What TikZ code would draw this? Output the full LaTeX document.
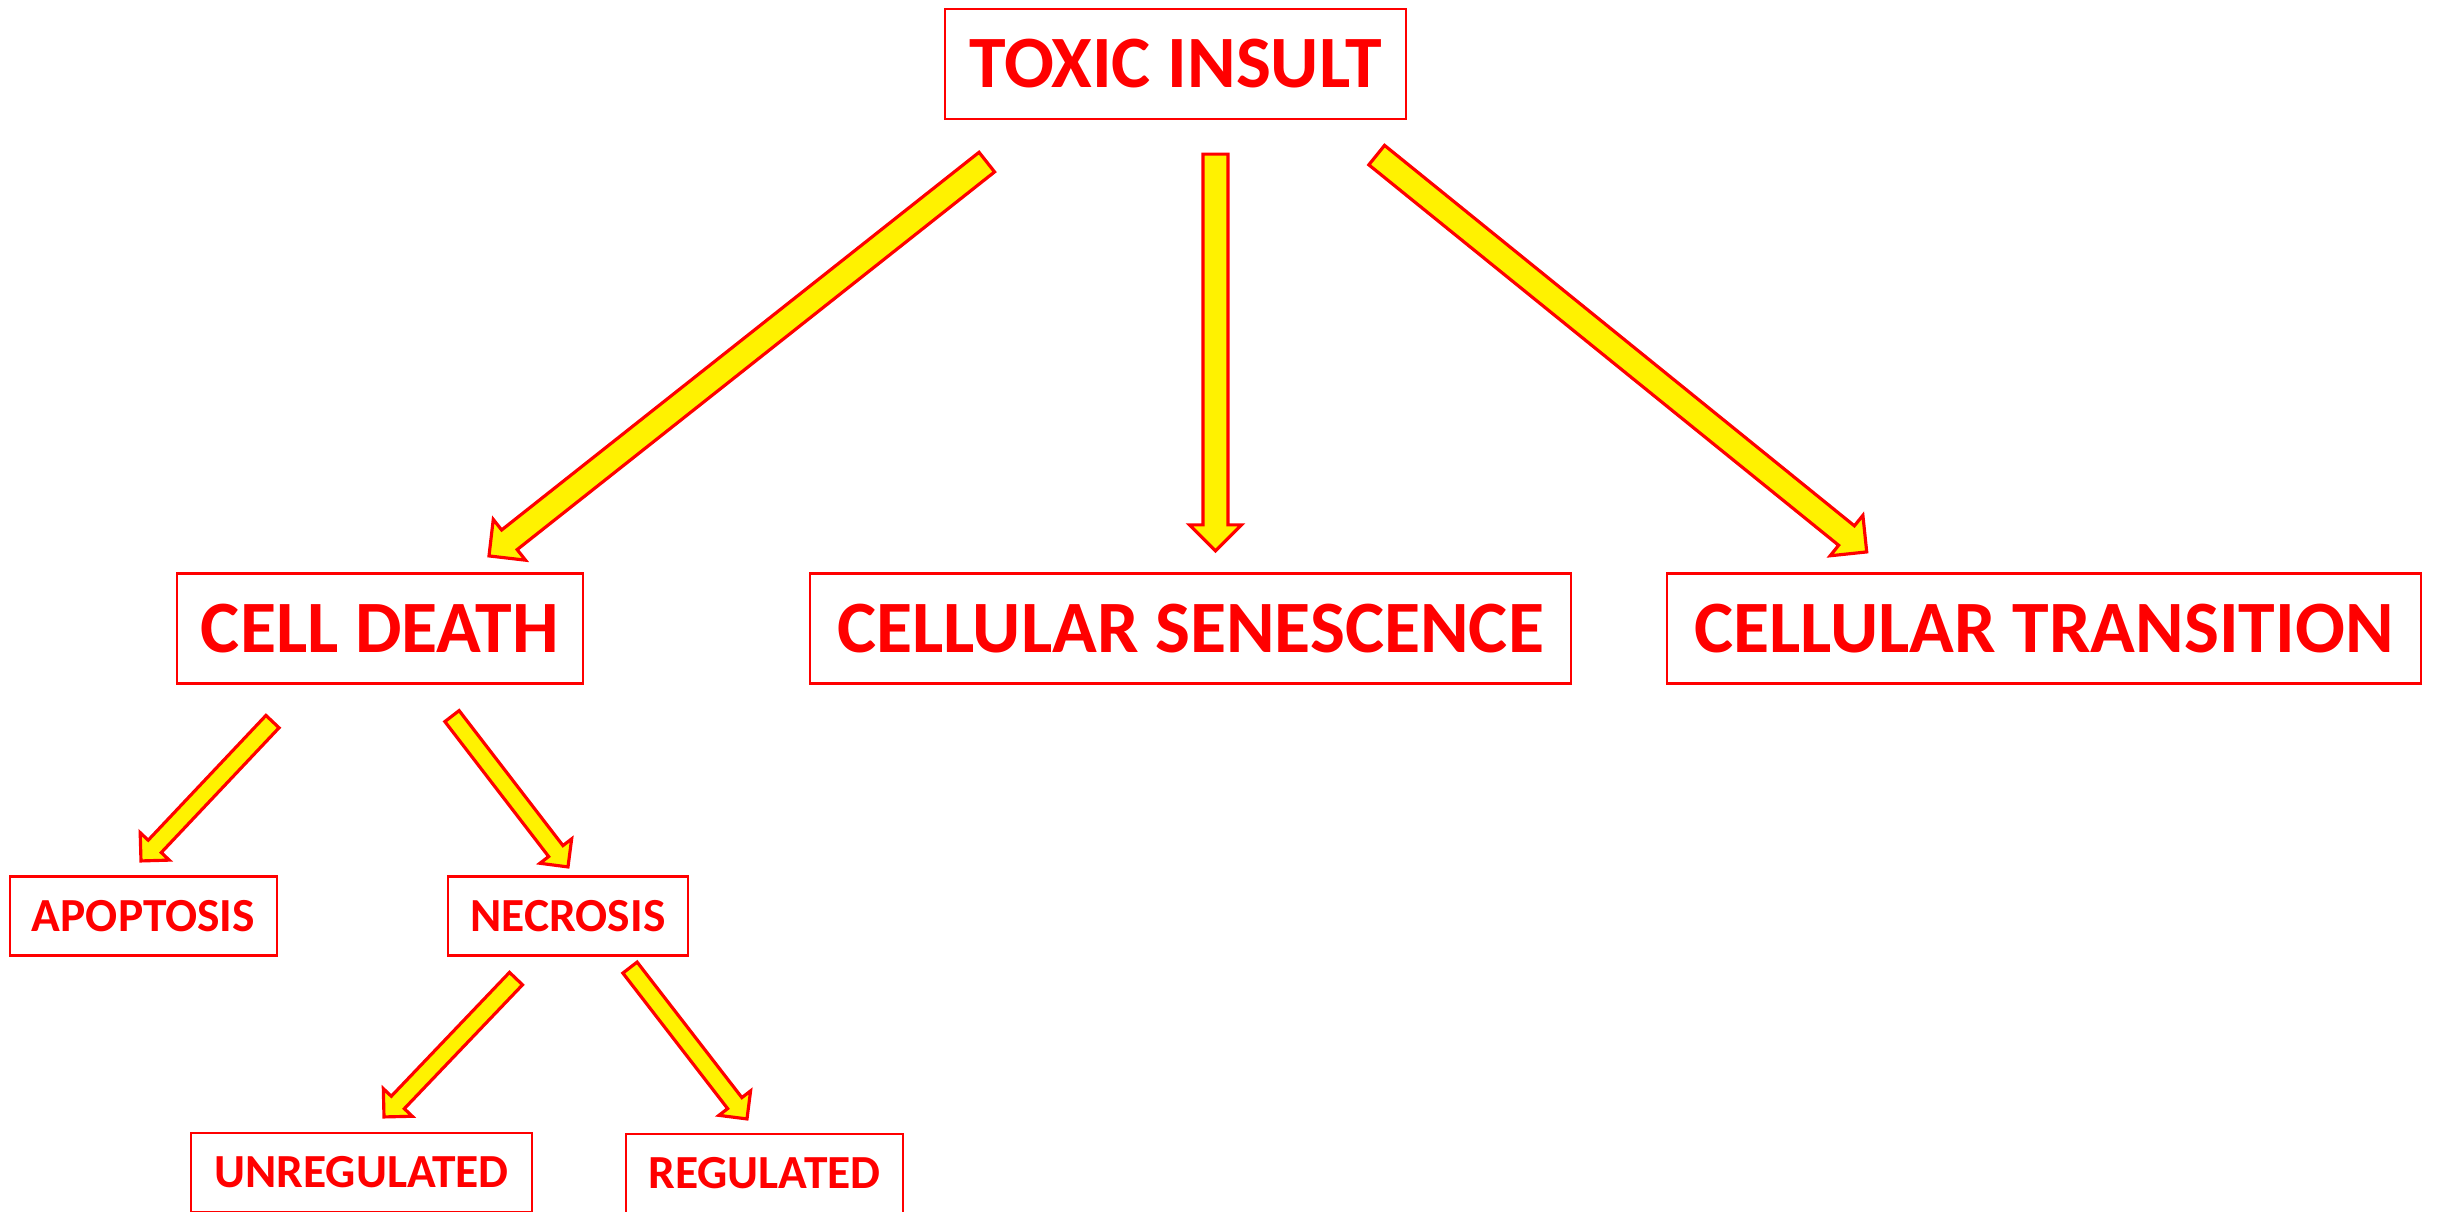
\documentclass[tikz,border=0pt]{standalone}
\usepackage{fontspec}
\setmainfont{Carlito}
\usetikzlibrary{calc}

% block arrow: tail, tip, shaft half width, head half width, head length
\newcommand{\blockarrow}[5]{%
  \path (#1) coordinate (tl) (#2) coordinate (tp);
  \coordinate (hb) at ($(tp)!#5!(tl)$);
  \draw[BlockArrow] ($(tl)!#3!90:(tp)$) -- ($(hb)!#3!90:(tp)$) -- ($(hb)!#4!90:(tp)$)
    -- (tp) -- ($(hb)!#4!-90:(tp)$) -- ($(hb)!#3!-90:(tp)$) -- ($(tl)!#3!-90:(tp)$) -- cycle;
}

\begin{document}
\begin{tikzpicture}
[
x=0.01cm, y=-0.01cm,
BigBox/.style={rectangle, draw=red, line width=0.6pt, text=red, inner sep=0pt, minimum height=1.1cm, font=\fontsize{21pt}{25pt}\selectfont\bfseries},
SmallBox/.style={rectangle, draw=red, line width=0.6pt, text=red, inner sep=0pt, minimum height=0.79cm, font=\fontsize{13.5pt}{16pt}\selectfont\bfseries},
BlockArrow/.style={draw=red, fill=yellow, line width=0.9pt, line join=miter},
]

\useasboundingbox (0,0) rectangle (2441,1211);

\node[BigBox, minimum width=4.61cm] (toxic) at (1175.5,64) {TOXIC INSULT};

\node[BigBox, minimum width=4.06cm] (death) at (380,628.5) {CELL DEATH};
\node[BigBox, minimum width=7.61cm] (senes) at (1190.5,628.5) {CELLULAR SENESCENCE};
\node[BigBox, minimum width=7.54cm] (trans) at (2044,628.5) {CELLULAR TRANSITION};

\node[SmallBox, minimum width=2.67cm] (apop) at (143.5,916) {APOPTOSIS};
\node[SmallBox, minimum width=2.40cm] (necro) at (568,916) {NECROSIS};

\node[SmallBox, minimum width=3.41cm] (unreg) at (361.5,1172.5) {UNREGULATED};
\node[SmallBox, minimum width=2.77cm] (reg) at (764.5,1173.5) {REGULATED};

% big arrows
\blockarrow{$(toxic.south west)+(43,42)$}{$(death.north)+(109,-16.5)$}{0.125cm}{0.26cm}{0.26cm}
\blockarrow{$(toxic.south)+(40,34)$}{$(senes.north)+(25,-21.5)$}{0.125cm}{0.26cm}{0.26cm}
\blockarrow{$(toxic.south east)+(-30.5,35)$}{$(trans.north west)+(201,-20.5)$}{0.125cm}{0.26cm}{0.26cm}

% small arrows
\blockarrow{$(death.south)+(-107.5,37)$}{$(apop.north)+(-2.5,-14.5)$}{0.09cm}{0.2cm}{0.2cm}
\blockarrow{$(death.south)+(72,31.5)$}{$(necro.north)+(0,-8.5)$}{0.09cm}{0.2cm}{0.2cm}
\blockarrow{$(necro.south)+(-52,22)$}{$(unreg.north)+(22.5,-15)$}{0.09cm}{0.2cm}{0.2cm}
\blockarrow{$(necro.south)+(62,11)$}{$(reg.north)+(-17.5,-14)$}{0.09cm}{0.2cm}{0.2cm}

\end{tikzpicture}
\end{document}
